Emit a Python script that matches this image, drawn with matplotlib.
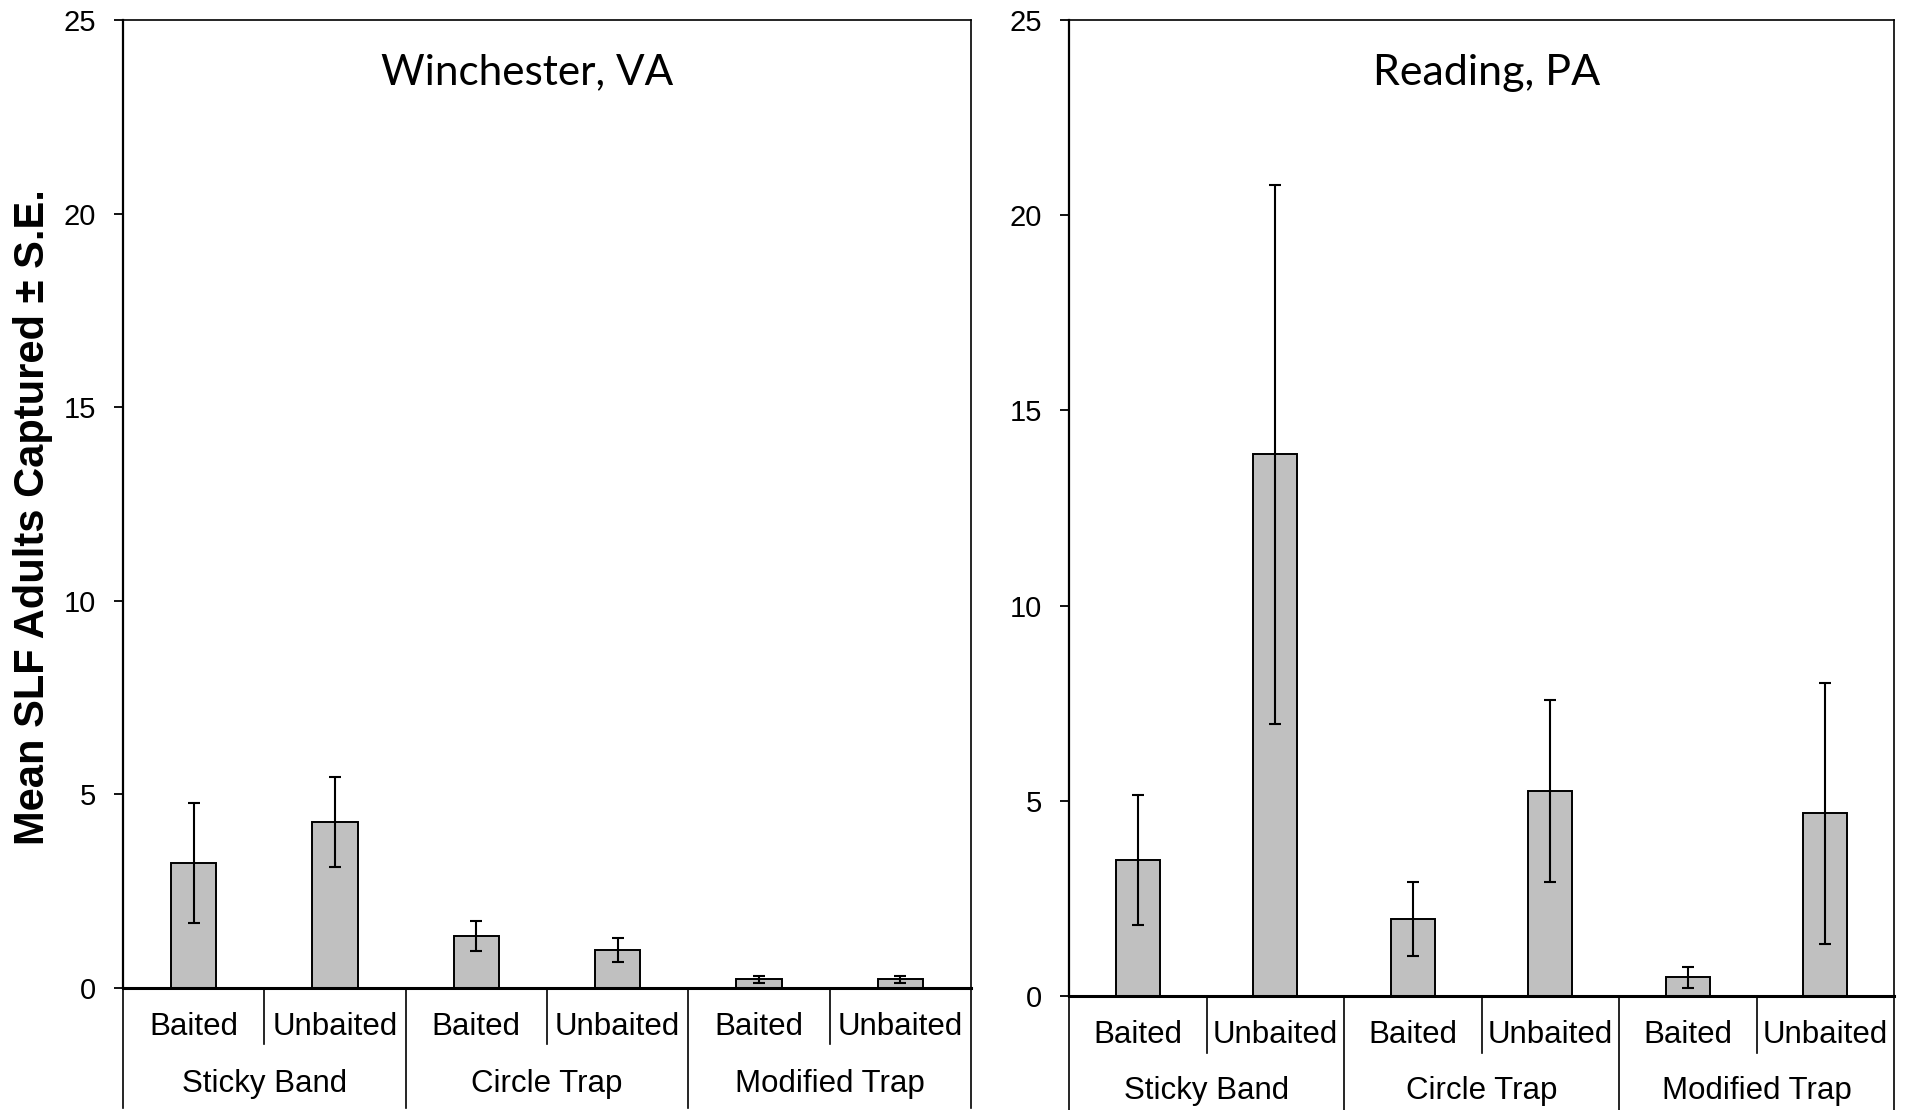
import numpy as np
import matplotlib.pyplot as plt

plt.rcParams['font.family'] = ['Liberation Sans', 'DejaVu Sans']

# data
sites = ["Winchester, VA", "Reading, PA"]
groups = ["Sticky Band", "Circle Trap", "Modified Trap"]
baits = ["Baited", "Unbaited"]
win_mean = [3.22, 4.29, 1.34, 0.97, 0.22, 0.22]
win_se = [1.55, 1.17, 0.39, 0.31, 0.10, 0.085]
rea_mean = [3.48, 13.88, 1.97, 5.25, 0.48, 4.68]
rea_se = [1.67, 6.90, 0.95, 2.33, 0.27, 3.35]

fig = plt.figure(figsize=(19.06, 11.10), dpi=100)
W, H = 1906, 1110

# panel boxes in pixels: left, right, top, zero line
boxes = [(123, 971, 20, 988), (1069, 1894, 20, 996)]
means = [win_mean, rea_mean]
ses = [win_se, rea_se]
title_x = [0.476, 0.506]
title_size = [30.4, 31]

for i in range(2):
    x0, x1, y0, y1 = boxes[i]
    ax = fig.add_axes([x0 / W, (H - y1) / H, (x1 - x0) / W, (y1 - y0) / H])
    hpx = y1 - y0
    x = np.arange(6)
    ax.bar(x, means[i], width=0.32, color="#c0c0c0", edgecolor="black", linewidth=1.4, zorder=2)
    ax.errorbar(x, means[i], yerr=ses[i], fmt="none", ecolor="black", elinewidth=1.5,
                capsize=4, capthick=1.5, zorder=3)
    ax.set_xlim(-0.5, 5.5)
    ax.set_ylim(0, 25)
    ax.set_yticks([0, 5, 10, 15, 20, 25])
    ax.tick_params(axis="y", direction="out", length=6.5, width=1.3, pad=13, labelsize=21)
    ax.set_xticks([])
    ax.spines["left"].set_linewidth(1.6)
    ax.spines["bottom"].set_linewidth(2.2)
    ax.spines["top"].set_linewidth(1.2)
    ax.spines["right"].set_linewidth(1.2)

    tr = ax.get_xaxis_transform()
    sub_y = -39 / hpx
    grp_y = -(95 if i else 96) / hpx
    short_y = -(57 if i else 56) / hpx
    long_y = -120 / hpx
    for k in range(6):
        ax.text(k, sub_y, baits[k % 2], transform=tr, ha="center", va="center", fontsize=22.5)
    for g in range(3):
        ax.text(2 * g + 0.5, grp_y, groups[g], transform=tr, ha="center", va="center", fontsize=22.5)
    for b in [-0.5, 1.5, 3.5, 5.5]:
        ax.plot([b, b], [0, long_y], transform=tr, color="black", lw=1.2, clip_on=False)
    for b in [0.5, 2.5, 4.5]:
        ax.plot([b, b], [0, short_y], transform=tr, color="black", lw=1.2, clip_on=False)

    ax.text(title_x[i], 0.946, sites[i], transform=ax.transAxes, ha="center", va="center",
            fontsize=title_size[i], family="Lato")

fig.text(33 / W, 1 - 517 / H, "Mean SLF Adults Captured \u00b1 S.E.", rotation=90,
         ha="center", va="center", fontsize=30, fontweight="bold")

fig.savefig("out.png", dpi=100)
